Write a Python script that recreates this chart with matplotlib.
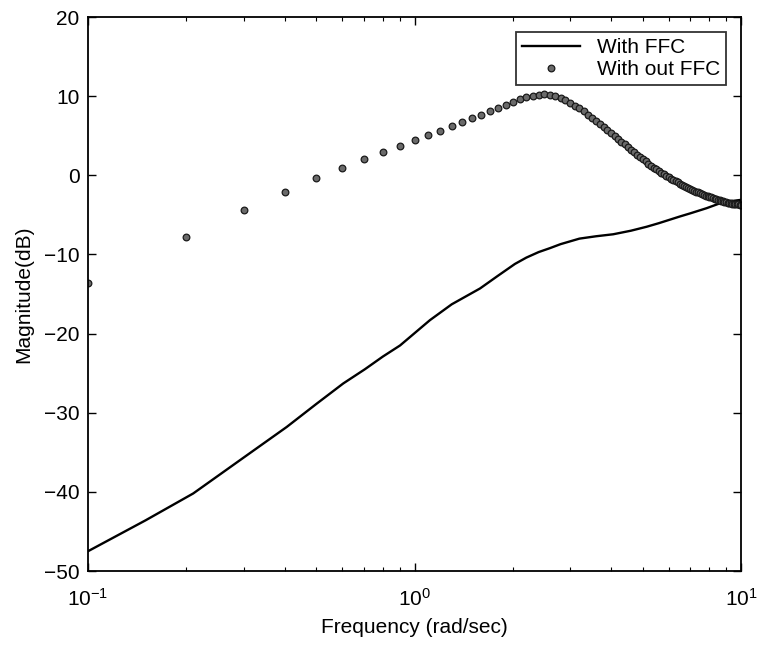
import matplotlib
matplotlib.use("Agg")
import matplotlib.pyplot as plt
import matplotlib.ticker as plticker
import numpy as np

plt.rcParams['font.family'] = ['Liberation Sans', 'DejaVu Sans']
plt.rcParams['mathtext.fontset'] = 'custom'
plt.rcParams['mathtext.rm'] = 'Liberation Sans'
plt.rcParams['mathtext.it'] = 'Liberation Sans'

# open loop response, sampled every 0.1 rad/sec
freq_nffc = [0.1 * k for k in range(1, 101)]
mag_nffc = [
    -13.6, -7.8, -4.4, -2.1, -0.4, 0.95, 2.0, 2.93, 3.73, 4.45,
    5.04, 5.63, 6.18, 6.73, 7.19, 7.65, 8.08, 8.53, 8.91, 9.25,
    9.6, 9.85, 10.0, 10.12, 10.22, 10.18, 10.02, 9.8, 9.5, 9.15,
    8.8, 8.45, 8.07, 7.68, 7.28, 6.88, 6.48, 6.08, 5.7, 5.3,
    4.93, 4.58, 4.24, 3.9, 3.57, 3.25, 2.93, 2.62, 2.32, 2.03,
    1.75, 1.48, 1.22, 0.97, 0.74, 0.52, 0.31, 0.11, -0.08, -0.26,
    -0.43, -0.59, -0.75, -0.9, -1.05, -1.19, -1.33, -1.46, -1.59, -1.71,
    -1.83, -1.95, -2.06, -2.17, -2.28, -2.38, -2.47, -2.56, -2.64, -2.72,
    -2.8, -2.88, -2.96, -3.03, -3.1, -3.17, -3.24, -3.3, -3.36, -3.41,
    -3.46, -3.5, -3.54, -3.58, -3.61, -3.64, -3.66, -3.68, -3.7, -3.72,
]

# response with the feed forward compensator
freq_ffc = [0.1, 0.15, 0.21, 0.306, 0.406, 0.5, 0.605, 0.705, 0.8, 0.903,
            1.115, 1.3, 1.587, 1.8, 2.03, 2.2, 2.4, 2.6, 2.8, 3.2,
            3.6, 4.06, 4.6, 5.14, 5.6, 6.06, 6.5, 7.0, 7.85, 8.8, 10.0]
mag_ffc = [-47.5, -43.6, -40.2, -35.4, -31.8, -28.9, -26.3, -24.5, -22.9, -21.5,
           -18.3, -16.3, -14.3, -12.7, -11.2, -10.4, -9.7, -9.2, -8.7, -8.0,
           -7.7, -7.45, -7.0, -6.5, -6.05, -5.6, -5.2, -4.8, -4.15, -3.4, -3.1]

fig = plt.figure(figsize=(7.58, 6.45), dpi=100)
ax = fig.add_axes([0.1161, 0.1147, 0.8615, 0.8589])

ax.semilogx(freq_ffc, mag_ffc, color='black', linewidth=1.7, label='With FFC')
ax.semilogx(freq_nffc, mag_nffc, linestyle='none', marker='o', markersize=4.8,
            markerfacecolor='#6a6a6a', markeredgecolor='#1a1a1a', markeredgewidth=0.9,
            label='With out FFC')

ax.set_xlim(0.1, 10)
ax.set_ylim(-50, 20)
ax.set_yticks(np.arange(-50, 21, 10))
ax.xaxis.set_major_locator(plticker.LogLocator(base=10, numticks=5))
ax.xaxis.set_minor_locator(plticker.LogLocator(base=10, subs=np.arange(2, 10), numticks=12))
ax.xaxis.set_minor_formatter(plticker.NullFormatter())

ax.tick_params(which='both', direction='in', top=True, right=True, labelsize=15)
ax.tick_params(which='major', length=6, width=1)
ax.tick_params(which='minor', length=3, width=0.8)
ax.tick_params(axis='x', which='major', pad=12)
ax.tick_params(axis='y', which='major', pad=6)
for sp in ax.spines.values():
    sp.set_linewidth(1.3)

ax.set_xlabel('Frequency (rad/sec)', fontsize=15, labelpad=6)
ax.set_ylabel('Magnitude(dB)', fontsize=15, labelpad=8)

leg = ax.legend(loc='upper right', fontsize=15, frameon=True, fancybox=False,
                borderaxespad=0.7, handlelength=2.8, handletextpad=0.8,
                labelspacing=0.15, borderpad=0.3, numpoints=1)
leg.get_frame().set_edgecolor('black')
leg.get_frame().set_linewidth(1.3)

fig.savefig('out.png', dpi=100)
